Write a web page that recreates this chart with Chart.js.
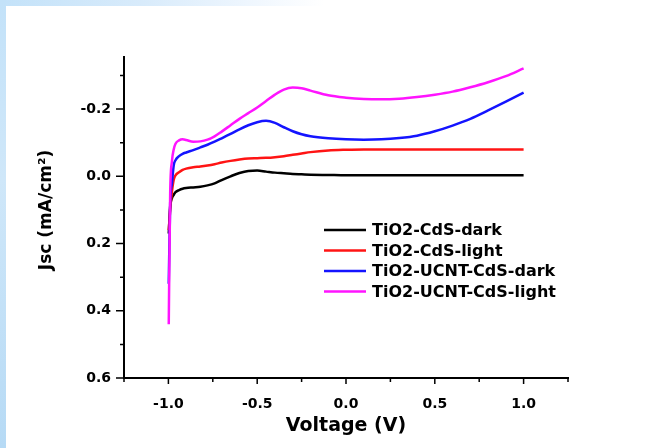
<!DOCTYPE html>
<html>
<head>
<meta charset="utf-8">
<script src="https://cdn.jsdelivr.net/npm/chart.js@4.4.1/dist/chart.umd.min.js"></script>
<style>
    html, body { margin: 0; padding: 0; background: #fff; }
    #wrap { position: relative; width: 648px; height: 448px; overflow: hidden; }
    .band-top  { position: absolute; left: 0; top: 0; width: 648px; height: 6px;
                 background: linear-gradient(to right, #c3e2f9 0%, #d8ebfb 22%, #eef6fe 38%, #ffffff 50%); }
    .band-left { position: absolute; left: 0; top: 0; width: 6px; height: 448px;
                 background: linear-gradient(#c3e2f9, #cfe7f9 40%, #b6daf5); }
    canvas { position: absolute; left: 0; top: 0; }
</style>
</head>
<body>
<div id="wrap">
    <div class="band-top"></div>
    <div class="band-left"></div>
    <canvas id="ivChart" width="648" height="448"></canvas>
</div>
<script>
const FONT = 'DejaVu Sans';

// voltage grid (V) shared by all four sweeps
const voltage = [
    -0.998, -0.99, -0.98, -0.97, -0.96, -0.94, -0.92, -0.9, -0.86, -0.82,
    -0.78, -0.74, -0.7, -0.65, -0.6, -0.55, -0.5, -0.45, -0.4, -0.35,
    -0.3, -0.25, -0.2, -0.1, 0, 0.1, 0.2, 0.3, 0.4, 0.5,
    0.6, 0.7, 0.8, 0.9, 1.0,
];

// Jsc (mA/cm2)
const jscCdSDark = [
    0.17, 0.09, 0.065, 0.055, 0.047, 0.041, 0.037, 0.035, 0.033, 0.031,
    0.027, 0.021, 0.011, 0.0, -0.01, -0.016, -0.017, -0.014, -0.011, -0.009,
    -0.007, -0.006, -0.005, -0.004, -0.003, -0.003, -0.003, -0.003, -0.003, -0.003,
    -0.003, -0.003, -0.003, -0.003, -0.003,
];
const jscCdSLight = [
    0.16, 0.10, 0.045, 0.01, -0.003, -0.012, -0.019, -0.023, -0.027, -0.029,
    -0.032, -0.036, -0.041, -0.046, -0.05, -0.053, -0.054, -0.055, -0.057, -0.06,
    -0.064, -0.068, -0.072, -0.077, -0.079, -0.08, -0.08, -0.08, -0.08, -0.08,
    -0.08, -0.08, -0.08, -0.08, -0.08,
];
const jscUcntDark = [
    0.32, 0.08, 0.02, -0.033, -0.048, -0.06, -0.067, -0.071, -0.078, -0.086,
    -0.094, -0.103, -0.113, -0.126, -0.14, -0.152, -0.161, -0.165, -0.159, -0.146,
    -0.134, -0.125, -0.119, -0.113, -0.11, -0.109, -0.11, -0.114, -0.121, -0.134,
    -0.151, -0.171, -0.196, -0.222, -0.249,
];
const jscUcntLight = [
    0.44, 0.05, -0.045, -0.08, -0.097, -0.107, -0.11, -0.108, -0.103, -0.104,
    -0.109, -0.119, -0.133, -0.152, -0.171, -0.188, -0.205, -0.224, -0.243, -0.258,
    -0.264, -0.262, -0.255, -0.241, -0.234, -0.23, -0.229, -0.231, -0.236, -0.243,
    -0.252, -0.265, -0.28, -0.298, -0.321,
];

const seriesNames  = ['TiO2-CdS-dark', 'TiO2-CdS-light', 'TiO2-UCNT-CdS-dark', 'TiO2-UCNT-CdS-light'];
const seriesValues = [jscCdSDark, jscCdSLight, jscUcntDark, jscUcntLight];
const seriesColors = ['#000000', '#ff1414', '#1414ff', '#ff14ff'];

// axis ticks
const xTickValues = [-1.25, -1.0, -0.75, -0.5, -0.25, 0, 0.25, 0.5, 0.75, 1.0, 1.25];
const xTickLabels = [-1.0, -0.5, 0, 0.5, 1.0];
const yTickValues = [-0.3, -0.2, -0.1, 0, 0.1, 0.2, 0.3, 0.4, 0.5, 0.6];
const yTickLabels = [-0.2, 0, 0.2, 0.4, 0.6];

const fmt = v => (Math.abs(v) < 1e-9 ? 0 : v).toFixed(1);

// outward tick marks (long on labelled ticks, short otherwise),
// rotated y title and the in-plot legend
const decorations = {
    id: 'decorations',
    afterDraw(chart) {
        const { ctx, chartArea: area, scales: { x, y } } = chart;
        ctx.save();
        ctx.strokeStyle = '#000';
        ctx.lineWidth = 1.5;
        ctx.beginPath();
        xTickValues.forEach(v => {
            const px = x.getPixelForValue(v);
            const len = xTickLabels.includes(v) ? 6 : 4;
            ctx.moveTo(px, area.bottom);
            ctx.lineTo(px, area.bottom + len);
        });
        yTickValues.forEach(v => {
            const py = y.getPixelForValue(v);
            const len = yTickLabels.includes(v) ? 8 : 4;
            ctx.moveTo(area.left, py);
            ctx.lineTo(area.left - len, py);
        });
        ctx.stroke();

        ctx.fillStyle = '#000';
        ctx.font = `bold 17px "${FONT}"`;
        ctx.textAlign = 'center';
        ctx.textBaseline = 'middle';
        ctx.translate(47, area.top + 153);
        ctx.rotate(-Math.PI / 2);
        ctx.fillText('Jsc (mA/cm²)', 0, 0);
        ctx.restore();

        ctx.save();
        const lx = area.left + 200;
        const ly = area.top + 173;
        ctx.font = `bold 16px "${FONT}"`;
        ctx.textAlign = 'left';
        ctx.textBaseline = 'middle';
        ctx.lineWidth = 2.5;
        seriesNames.forEach((name, i) => {
            const rowY = ly + i * 20.5;
            ctx.strokeStyle = seriesColors[i];
            ctx.beginPath();
            ctx.moveTo(lx, rowY);
            ctx.lineTo(lx + 42, rowY);
            ctx.stroke();
            ctx.fillStyle = '#000';
            ctx.fillText(name, lx + 48, rowY + 1);
        });
        ctx.restore();
    },
};

new Chart(document.getElementById('ivChart').getContext('2d'), {
    type: 'line',
    data: {
        datasets: seriesNames.map((name, i) => ({
            label:            name,
            data:             voltage.map((v, k) => ({ x: v, y: seriesValues[i][k] })),
            borderColor:      seriesColors[i],
            borderWidth:      2.5,
            pointRadius:      0,
            fill:             false,
            cubicInterpolationMode: 'monotone',
            order:            seriesNames.length - i,
        })),
    },
    options: {
        responsive: false,
        animation:  false,
        devicePixelRatio: 1,
        layout: { padding: { left: 0, top: 57, right: 80, bottom: 0 } },
        plugins: {
            legend:  { display: false },
            tooltip: { enabled: false },
        },
        scales: {
            x: {
                type: 'linear',
                min: -1.25,
                max: 1.25,
                afterBuildTicks: s => { s.ticks = xTickValues.map(v => ({ value: v })); },
                afterFit: s => { s.height = 70; },
                grid:   { drawOnChartArea: false, drawTicks: false },
                border: { display: true, color: '#000', width: 2 },
                ticks: {
                    autoSkip: false,
                    maxRotation: 0,
                    padding: 18,
                    color: '#000',
                    font: { family: FONT, size: 14, weight: 'bold' },
                    callback: v => (xTickLabels.includes(v) ? fmt(v) : ''),
                },
                title: {
                    display: true,
                    text: 'Voltage (V)',
                    color: '#000',
                    font: { family: FONT, size: 19, weight: 'bold' },
                    padding: { top: 0, bottom: 11 },
                },
            },
            y: {
                type: 'linear',
                reverse: true,
                min: -0.355,
                max: 0.6,
                afterBuildTicks: s => { s.ticks = yTickValues.map(v => ({ value: v })); },
                afterFit: s => { s.width = 124; },
                grid:   { drawOnChartArea: false, drawTicks: false },
                border: { display: true, color: '#000', width: 2 },
                ticks: {
                    autoSkip: false,
                    padding: 13,
                    color: '#000',
                    font: { family: FONT, size: 14, weight: 'bold' },
                    callback: v => (yTickLabels.includes(v) ? fmt(v) : ''),
                },
            },
        },
    },
    plugins: [decorations],
});
</script>
</body>
</html>
